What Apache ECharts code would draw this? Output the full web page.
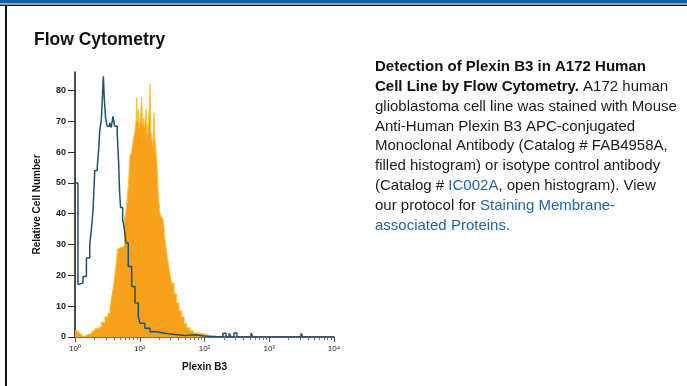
<!DOCTYPE html>
<html>
<head>
<meta charset="utf-8">
<title>Flow Cytometry</title>
<script src="https://cdn.jsdelivr.net/npm/echarts@6/dist/echarts.min.js"></script>
<style>
	html, body { margin: 0; padding: 0; background: #fff; }
	#chart { width: 687px; height: 386px; }
</style>
</head>
<body>
<div id="chart"></div>
<script>
// isotype control (open histogram), bin left edge / count
var isoX = [1.00, 1.11, 1.19, 1.33, 1.50, 1.69, 1.79, 1.90, 2.02, 2.21, 2.32, 2.41, 2.55, 2.64, 2.74, 2.84, 2.98, 3.15, 3.43, 3.63, 3.86, 4.10, 4.49, 4.72, 4.86, 5.05, 5.45, 5.71, 6.13, 6.65, 7.51, 8.45, 9.50, 10.1, 12.0, 14.4, 18.3, 24.5, 35.0, 50.0, 71.0, 100, 193, 215, 240, 257, 285, 317, 523, 560, 3100, 3300, 10000];
var isoY = [50, 17, 17.5, 19.6, 25.6, 30, 34.8, 41.3, 54, 55.4, 60.8, 67, 70.6, 77, 84.6, 77, 70.6, 68.4, 69.5, 68, 71.6, 68.4, 66, 56.5, 48, 42, 38, 35.9, 30.5, 22.9, 16.4, 11, 6.6, 4.5, 2.8, 1.7, 1.2, 0.8, 0.5, 0.7, 0.3, 0, 1.2, 0, 1.2, 0, 1.3, 0, 1.3, 0, 1.2, 0, 0];

// Plexin B3 stained (filled histogram)
var pbX = [1.00, 1.11, 1.19, 1.28, 1.43, 1.59, 1.83, 2.04, 2.27, 2.55, 2.71, 2.90, 3.23, 3.47, 3.68, 3.90, 4.15, 4.35, 4.53, 4.78, 5.13, 5.42, 5.81, 6.13, 6.47, 6.71, 7.07, 7.47, 7.95, 8.45, 8.76, 8.98, 9.23, 9.50, 9.90, 10.35, 10.74, 11.0, 11.35, 11.84, 12.5, 12.94, 13.65, 14.0, 14.4, 14.8, 15.3, 16.0, 16.6, 17.2, 18.3, 19.3, 20.5, 21.6, 23.1, 24.5, 25.9, 27.6, 29.3, 31.1, 33.9, 37.2, 40.4, 44.4, 48.4, 53.1, 59.6, 67.2, 79.4, 95.8, 114];
var pbY = [2, 2.5, 1, 0.3, 0.8, 1.2, 2, 2.8, 3.3, 5, 4.5, 6.6, 7.8, 9.5, 13, 16, 21, 24, 28.5, 29, 28.5, 29.5, 38, 41, 46, 50, 58.6, 60, 64, 67, 70, 77.7, 70, 73.8, 68, 72, 77.7, 69, 71, 68, 74, 66, 70, 74, 82, 67, 65, 62, 72.8, 64, 57.6, 46.8, 40, 39, 38, 31.5, 28, 24, 20.5, 17.5, 14, 11, 8.5, 6.5, 4.5, 3, 2, 1.3, 1, 0.7, 0];

var yTicks = [0, 10, 20, 30, 40, 50, 60, 70, 80];
var xMinor = [2, 3, 4, 5, 6, 7, 8, 9];

var descLines = [
	'{b|Detection of Plexin B3 in A172 Human}',
	'{b|Cell Line by Flow Cytometry.} A172 human',
	'glioblastoma cell line was stained with Mouse',
	'Anti-Human Plexin B3 APC-conjugated',
	'Monoclonal Antibody (Catalog # FAB4958A,',
	'filled histogram) or isotype control antibody',
	'(Catalog # {l|IC002A}, open histogram). View',
	'our protocol for {l|Staining Membrane-}',
	'{l|associated Proteins}.'
];

var sup = ['⁰', '¹', '²', '³', '⁴'];
var axisFont = '"Liberation Sans", Arial, sans-serif';

var flowChart = {
	init: function() {
		var isoData = isoX.map(function(x, i) { return [x, isoY[i]]; });
		var pbData = pbX.map(function(x, i) { return [x, pbY[i]]; });
		// minor ticks (2..9 of each decade) on a helper axis in log10 units
		var minorPos = [];
		for (var d = 0; d < 4; d++) {
			for (var k = 0; k < xMinor.length; k++) {
				minorPos.push(d + Math.log10(xMinor[k]));
			}
		}
		flowChart.showChart(isoData, pbData, minorPos);
	},
	showChart: function(isoData, pbData, minorPos) {
		var myChart = echarts.init(document.getElementById('chart'), null, {renderer: 'canvas'});

		var graphics = [
			{type: 'rect', shape: {x: 0, y: 0, width: 687, height: 3.5}, style: {fill: '#115ea3'}},
			{type: 'rect', shape: {x: 0, y: 4.5, width: 687, height: 1.5}, style: {fill: '#222'}},
			{type: 'rect', shape: {x: 5, y: 5, width: 2, height: 381}, style: {fill: '#111'}},
			{type: 'text', x: 34, y: 40, style: {
				text: 'Flow Cytometry', font: 'bold 17.5px ' + axisFont, fill: '#111', verticalAlign: 'middle'
			}}
		];
		for (var i = 0; i < descLines.length; i++) {
			graphics.push({
				type: 'text', x: 375, y: 67 + i * 19.8,
				style: {
					text: descLines[i],
					font: '15px ' + axisFont,
					fill: '#1a1a1a',
					verticalAlign: 'middle',
					rich: {
						b: {fontWeight: 'bold', fontSize: 15, fontFamily: axisFont, fill: '#111'},
						l: {fontSize: 15, fontFamily: axisFont, fill: '#1f63a8'}
					}
				}
			});
		}

		var option = {
			animation: false,
			backgroundColor: '#fff',
			grid: {left: 75, right: 353, top: 72, bottom: 49},
			graphic: graphics,
			xAxis: [{
				type: 'log',
				logBase: 10,
				min: 1,
				max: 10000,
				position: 'bottom',
				name: 'Plexin B3',
				nameLocation: 'middle',
				nameGap: 25,
				nameTextStyle: {fontWeight: 'bold', fontSize: 10, fontFamily: axisFont, color: '#111'},
				axisLine: {lineStyle: {color: '#444', width: 1.5}},
				axisTick: {length: 5, lineStyle: {color: '#555'}},
				axisLabel: {
					margin: 8,
					formatter: function(v) {
						var e = Math.round(Math.log10(v));
						return '10' + sup[e];
					},
					fontSize: 8,
					fontFamily: axisFont,
					color: '#222'
				},
				splitLine: {show: false}
			}, {
				type: 'value',
				min: 0,
				max: 4,
				position: 'bottom',
				axisLine: {show: false},
				axisLabel: {show: false},
				splitLine: {show: false},
				axisTick: {show: true, length: 3, customValues: minorPos, lineStyle: {color: '#777'}}
			}],
			yAxis: {
				type: 'value',
				min: 0,
				max: 86,
				interval: 10,
				name: 'Relative Cell Number',
				nameLocation: 'middle',
				nameGap: 33,
				nameTextStyle: {fontWeight: 'bold', fontSize: 10, fontFamily: axisFont, color: '#111'},
				axisLine: {show: true, lineStyle: {color: '#111', width: 1.5}},
				axisTick: {show: true, length: 7, customValues: yTicks, lineStyle: {color: '#333'}},
				axisLabel: {
					margin: 9,
					customValues: yTicks,
					fontWeight: 'bold',
					fontSize: 9,
					fontFamily: axisFont,
					color: '#222'
				},
				splitLine: {show: false}
			},
			series: [{
				name: 'Plexin B3',
				type: 'line',
				step: 'end',
				xAxisIndex: 0,
				data: pbData,
				symbol: 'none',
				lineStyle: {color: '#fbc13a', width: 1},
				areaStyle: {color: '#f8a11c', opacity: 1},
				z: 2
			}, {
				name: 'Isotype',
				type: 'line',
				step: 'end',
				xAxisIndex: 0,
				data: isoData,
				symbol: 'none',
				lineStyle: {color: '#22526a', width: 1.5},
				z: 3
			}]
		};
		myChart.setOption(option);
	}
};

flowChart.init();
</script>
</body>
</html>
